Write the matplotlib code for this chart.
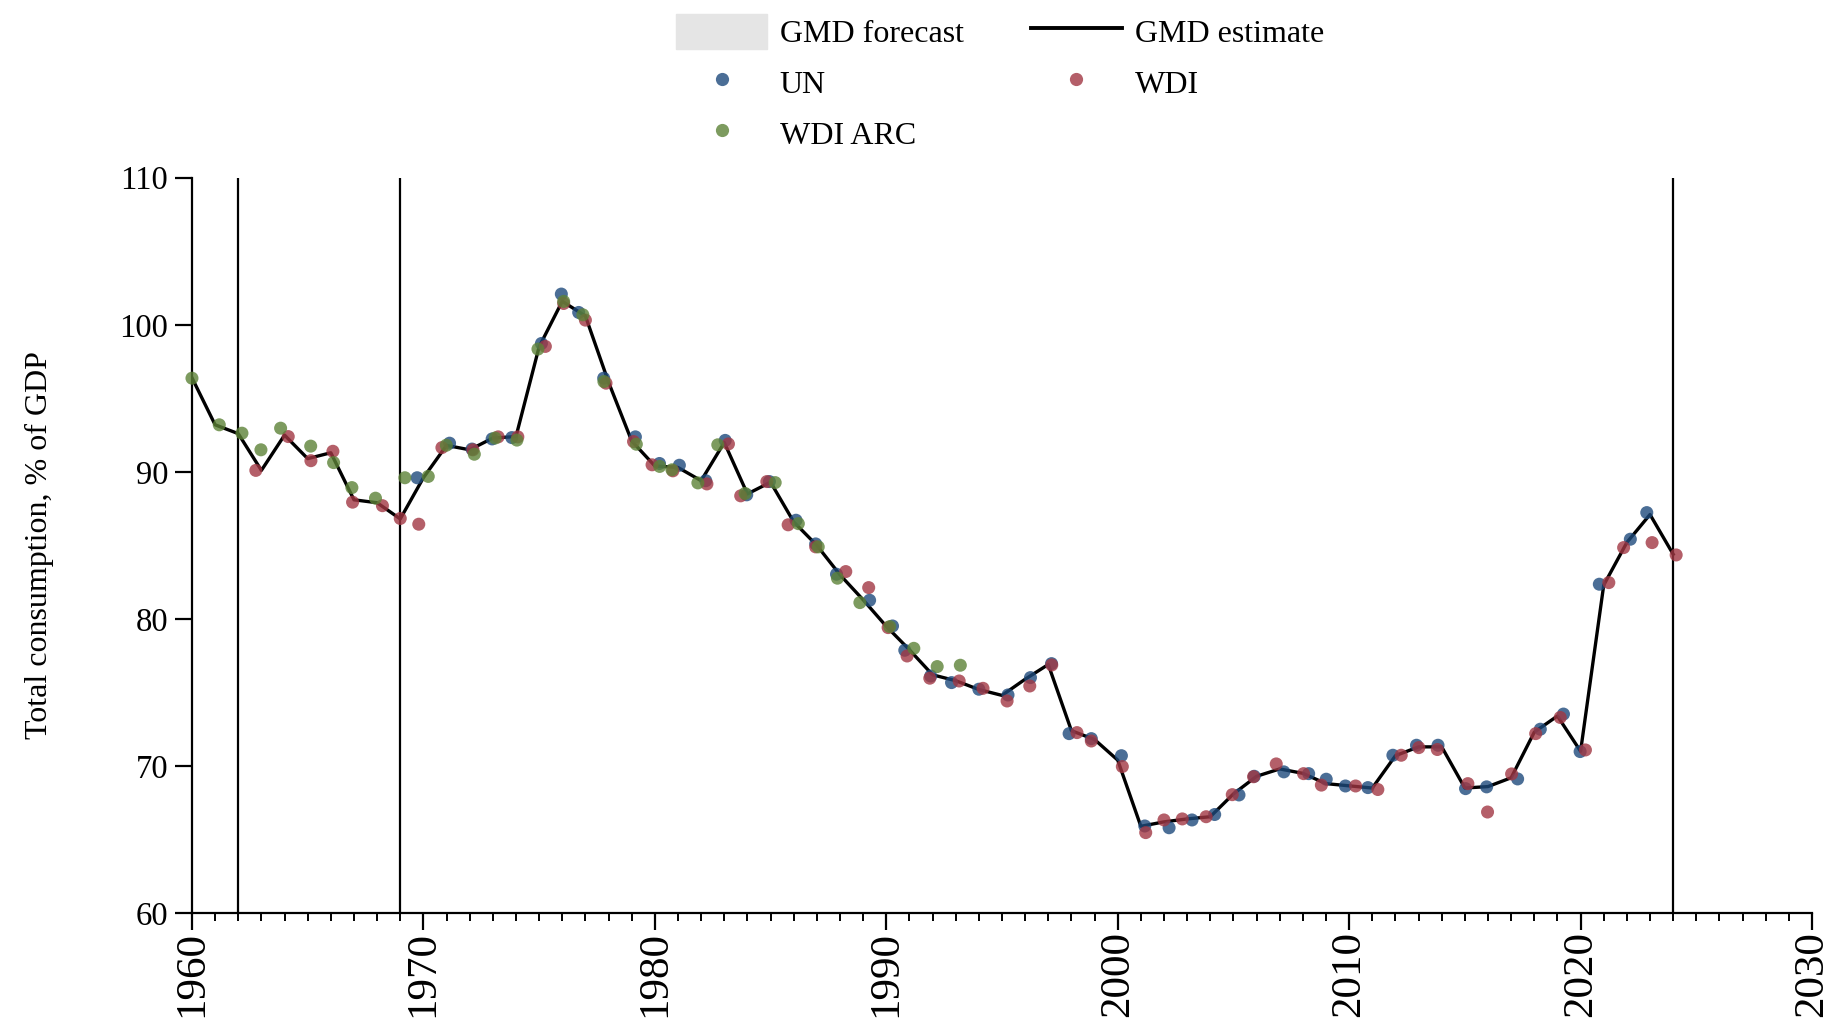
import matplotlib
matplotlib.use("Agg")
import matplotlib.pyplot as plt
from matplotlib.lines import Line2D
from matplotlib.patches import Patch
from matplotlib.ticker import MultipleLocator

plt.rcParams['font.family'] = ['Liberation Serif', 'DejaVu Serif']

# ---------------- data ----------------
years = list(range(1960, 2025))
gmd_estimate = [96.4, 93.2, 92.6, 90.1, 92.5, 90.9, 91.3, 88.1, 87.9, 86.8,
                89.6, 91.8, 91.5, 92.3, 92.4, 98.5, 101.6, 100.6, 96.1, 92.1,
                90.4, 90.3, 89.4, 92.0, 88.5, 89.3, 86.6, 85.0, 83.0, 81.3,
                79.5, 77.9, 76.2, 75.8, 75.2, 74.8, 75.9, 76.9, 72.4, 71.8,
                70.4, 65.9, 66.2, 66.4, 66.55, 68.1, 69.3, 69.8, 69.5, 68.8,
                68.65, 68.5, 70.7, 71.3, 71.3, 68.5, 68.6, 69.2, 72.3, 73.4,
                71.0, 82.3, 85.2, 87.1, 84.4]

# observed (jittered) x positions and values of the source series
un_x = [1969.73, 1971.13, 1972.10, 1972.97, 1973.82, 1975.10, 1975.96, 1976.71,
        1977.79, 1979.16, 1980.20, 1981.06, 1982.20, 1983.04, 1983.97, 1984.95,
        1986.10, 1986.95, 1987.85, 1989.28, 1990.27, 1990.80, 1991.92, 1992.82,
        1994.00, 1995.26, 1996.23, 1997.14, 1997.90, 1998.86, 2000.16, 2001.17,
        2002.22, 2003.21, 2004.19, 2005.24, 2005.90, 2007.18, 2008.25, 2009.01,
        2009.84, 2010.81, 2011.89, 2012.91, 2013.84, 2015.03, 2015.94, 2017.28,
        2018.26, 2019.26, 2019.98, 2020.81, 2022.15, 2022.86]
un_y = [89.6, 91.95, 91.55, 92.24, 92.33, 98.73, 102.09, 100.84,
        96.37, 92.38, 90.57, 90.45, 89.4, 92.14, 88.44, 89.34,
        86.71, 85.1, 83.04, 81.27, 79.52, 77.87, 76.12, 75.67,
        75.22, 74.83, 76.01, 76.96, 72.2, 71.86, 70.7, 65.92,
        65.8, 66.33, 66.7, 68.03, 69.3, 69.6, 69.48, 69.1,
        68.64, 68.53, 70.73, 71.41, 71.41, 68.46, 68.58, 69.12,
        72.5, 73.53, 70.98, 82.36, 85.42, 87.23]

wdi_x = [1962.76, 1964.16, 1965.14, 1966.09, 1966.94, 1968.23, 1969.00, 1969.80,
         1970.80, 1972.14, 1973.23, 1974.08, 1975.27, 1976.06, 1977.00, 1977.89,
         1979.08, 1979.88, 1980.78, 1982.25, 1983.18, 1983.71, 1984.84, 1985.76,
         1986.95, 1988.25, 1989.24, 1990.08, 1990.90, 1991.88, 1993.15, 1994.18,
         1995.22, 1996.20, 1997.15, 1998.24, 1998.86, 2000.20, 2001.21, 2002.00,
         2002.79, 2003.82, 2004.95, 2005.87, 2006.85, 2008.03, 2008.80, 2010.28,
         2011.24, 2012.25, 2013.01, 2013.81, 2015.13, 2015.98, 2017.02, 2018.06,
         2019.12, 2020.21, 2021.22, 2021.86, 2023.09, 2024.13]
wdi_y = [90.1, 92.4, 90.76, 91.4, 87.94, 87.7, 86.83, 86.44,
         91.65, 91.5, 92.38, 92.38, 98.53, 101.45, 100.32, 96.03,
         92.06, 90.48, 90.07, 89.18, 91.9, 88.37, 89.34, 86.4,
         84.9, 83.22, 82.13, 79.41, 77.48, 75.97, 75.78, 75.28,
         74.42, 75.44, 76.87, 72.27, 71.7, 69.96, 65.47, 66.33,
         66.4, 66.55, 68.05, 69.27, 70.14, 69.48, 68.7, 68.64,
         68.4, 70.73, 71.25, 71.12, 68.8, 66.87, 69.46, 72.2,
         73.3, 71.09, 82.47, 84.85, 85.19, 84.35]

wdi_arc_x = [1960.00, 1961.18, 1962.16, 1962.98, 1963.83, 1965.13, 1966.12, 1966.91,
             1967.93, 1969.20, 1970.21, 1970.99, 1972.20, 1973.10, 1974.04, 1974.95,
             1976.06, 1976.89, 1977.80, 1979.20, 1980.21, 1980.74, 1981.86, 1982.72,
             1983.90, 1985.20, 1986.20, 1987.06, 1987.89, 1988.86, 1990.15, 1991.19,
             1992.20, 1993.20]
wdi_arc_y = [96.37, 93.2, 92.63, 91.5, 92.97, 91.75, 90.63, 88.93,
             88.21, 89.6, 89.69, 91.81, 91.2, 92.3, 92.16, 98.35,
             101.59, 100.68, 96.14, 91.88, 90.37, 90.14, 89.25, 91.84,
             88.53, 89.27, 86.48, 84.9, 82.77, 81.11, 79.48, 78.0,
             76.76, 76.85]

vlines_years = [1962, 1969, 2024]
xticks_major = [1960, 1970, 1980, 1990, 2000, 2010, 2020, 2030]
yticks_major = [60, 70, 80, 90, 100, 110]

# ---------------- styles ----------------
c_un = '#1e4a7c'
c_wdi = '#a13743'
c_arc = '#5c8237'
alpha = 0.8
msize = 88

fig = plt.figure(figsize=(18.37, 10.18), dpi=100)
ax = fig.add_axes([0.1045, 0.1031, 0.8819, 0.7223])

for xv in vlines_years:
    ax.axvline(xv, color='black', lw=1.6, zorder=1)

ax.plot(years, gmd_estimate, color='black', lw=2.4, zorder=2)

ax.scatter(un_x, un_y, s=msize, color=c_un, alpha=alpha, edgecolors='none', zorder=3, clip_on=False)
ax.scatter(wdi_x, wdi_y, s=msize, color=c_wdi, alpha=alpha, edgecolors='none', zorder=3, clip_on=False)
ax.scatter(wdi_arc_x, wdi_arc_y, s=msize, color=c_arc, alpha=alpha, edgecolors='none', zorder=3, clip_on=False)

ax.set_xlim(1960, 2030)
ax.set_ylim(60, 110)
ax.set_xticks(xticks_major)
ax.xaxis.set_minor_locator(MultipleLocator(1))
ax.set_yticks(yticks_major)

for s in ['top', 'right']:
    ax.spines[s].set_visible(False)
for s in ['left', 'bottom']:
    ax.spines[s].set_linewidth(1.6)

ax.tick_params(axis='x', which='major', length=12, width=1.6, labelsize=31, pad=1,
               labelrotation=90, direction='out')
ax.tick_params(axis='x', which='minor', length=6, width=1.4, direction='out')
ax.tick_params(axis='y', which='major', length=12, width=1.6, labelsize=23.5, pad=5,
               direction='out')

ax.set_ylabel('Total consumption, % of GDP', fontsize=23)
ax.yaxis.set_label_coords(-0.085, 0.5)

handles = [
    Patch(facecolor='#e5e5e5', edgecolor='#e5e5e5', label='GMD forecast'),
    Line2D([], [], marker='o', linestyle='none', markersize=9.5, color=c_un, alpha=alpha,
           markeredgewidth=0, label='UN'),
    Line2D([], [], marker='o', linestyle='none', markersize=9.5, color=c_arc, alpha=alpha,
           markeredgewidth=0, label='WDI ARC'),
    Line2D([], [], color='black', lw=2.8, label='GMD estimate'),
    Line2D([], [], marker='o', linestyle='none', markersize=9.5, color=c_wdi, alpha=alpha,
           markeredgewidth=0, label='WDI'),
]
fig.legend(handles=handles, loc='upper center', bbox_to_anchor=(1000 / 1837, 1.0),
           ncol=2, frameon=False, fontsize=23, handlelength=2.85, handleheight=1.28,
           handletextpad=0.4, columnspacing=2.1, labelspacing=0.5,
           borderaxespad=0, borderpad=0.45)

fig.savefig('out.png', dpi=100)
